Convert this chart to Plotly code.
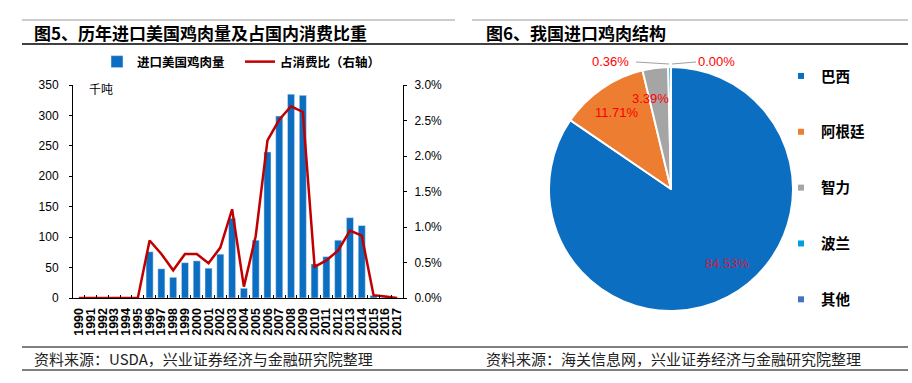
import plotly.graph_objects as go

# ---- data: left chart ----
years = [str(y) for y in range(1990, 2018)]
import_us = [0, 0, 0, 0, 0, 0, 76, 48, 34, 58, 61, 49, 72, 131, 16, 95,
             240, 299, 335, 333, 56, 68, 95, 132, 119, 4, 1, 0]
share_pct = [0.0, 0.0, 0.0, 0.0, 0.0, 0.0, 0.81, 0.62, 0.39, 0.62, 0.62, 0.49, 0.71, 1.25, 0.16, 0.87,
             2.22, 2.51, 2.70, 2.62, 0.44, 0.53, 0.67, 0.95, 0.88, 0.04, 0.02, 0.0]
left_ticks = [0, 50, 100, 150, 200, 250, 300, 350]
right_ticks = [0.0, 0.5, 1.0, 1.5, 2.0, 2.5, 3.0]

# ---- data: right chart ----
countries = ["巴西", "阿根廷", "智力", "波兰", "其他"]
pie_share = [84.53, 11.71, 3.39, 0.36, 0.00]
pie_colors = ["#0B6EC0", "#ED7D31", "#A5A5A5", "#00A0E0", "#4472C4"]
label_colors = ["#C8204A", "#FF0000", "#FF0000", "#FF0000", "#FF0000"]
# label placement (pixels) for each slice's percentage text
label_pos = [(727, 263), (617, 112), (650, 99), (610, 61), (716, 61)]

W, H = 912, 383
def px(x):
    return x / W
def py(y):
    return (H - y) / H

FONT = "Noto Sans CJK SC"
fig = go.Figure()

fig.add_trace(go.Bar(
    x=years, y=import_us, name="进口美国鸡肉量", marker_color="#0B6EC0",
    xaxis="x", yaxis="y", legend="legend"))
fig.add_trace(go.Scatter(
    x=years, y=[v / 100 for v in share_pct], name="占消费比（右轴）", mode="lines",
    line=dict(color="#C00000", width=2.5), xaxis="x", yaxis="y2", legend="legend"))

fig.add_trace(go.Pie(
    labels=countries, values=pie_share, sort=False, direction="clockwise", rotation=0,
    marker=dict(colors=pie_colors, line=dict(color="white", width=2)),
    textinfo="none",
    domain=dict(x=[px(549), px(793)], y=[py(311), py(67)]),
    showlegend=False, hoverinfo="label+percent"))

# proxy legend entries for the pie
for c, col in zip(countries, pie_colors):
    fig.add_trace(go.Scatter(
        x=[None], y=[None], mode="markers", name=c, legend="legend2", legendgroup=c,
        marker=dict(symbol="square", size=6, color=col), xaxis="x", yaxis="y"))

fig.update_layout(
    width=W, height=H, margin=dict(l=0, r=0, t=0, b=0, pad=0, autoexpand=False),
    paper_bgcolor="white", plot_bgcolor="white",
    font=dict(family=FONT, color="#000"),
    bargap=0.4,
    xaxis=dict(domain=[px(73), px(403)], type="category", tickangle=-90,
               tickmode="array", tickvals=years, ticktext=years, automargin=False,
               tickfont=dict(family="Liberation Sans", size=12.5, color="#000", weight="bold"),
               showline=True, linecolor="#000", linewidth=1,
               ticks="inside", tickson="boundaries", ticklen=3, tickcolor="#000",
               ticklabelstandoff=4, showgrid=False, anchor="y"),
    yaxis=dict(domain=[py(298), py(85)], range=[0, 350], tickvals=left_ticks, automargin=False,
               tickfont=dict(family="Liberation Sans", size=12, color="#000"),
               showline=True, linecolor="#000", linewidth=1, ticks="outside", ticklen=3,
               ticklabelstandoff=8,
               tickcolor="#000", showgrid=False, zeroline=False, anchor="x"),
    yaxis2=dict(domain=[py(298), py(85)], range=[0, 0.03], overlaying="y", side="right",
                tickvals=[v / 100 for v in right_ticks], tickformat=".1%", automargin=False,
                tickfont=dict(family="Liberation Sans", size=12, color="#000"),
                showline=True, linecolor="#000", linewidth=1, ticks="outside", ticklen=3,
                ticklabelstandoff=5,
                tickcolor="#000", showgrid=False, zeroline=False, anchor="x"),
    legend=dict(orientation="h", x=px(97), y=py(62), xanchor="left", yanchor="middle",
                font=dict(size=12.5, weight="bold", family=FONT), bgcolor="rgba(0,0,0,0)",
                entrywidth=98, entrywidthmode="pixels", itemwidth=30, tracegroupgap=0),
    legend2=dict(orientation="v", x=px(781), y=py(60), xanchor="left", yanchor="top",
                 font=dict(size=14.5, weight="bold", family=FONT), bgcolor="rgba(0,0,0,0)",
                 tracegroupgap=34, itemwidth=30),
)

shapes = []
shapes.append(dict(type="line", xref="paper", yref="paper", x0=px(22), x1=px(455), y0=py(20), y1=py(20),
                   line=dict(color="#999", width=1)))
shapes.append(dict(type="line", xref="paper", yref="paper", x0=px(472), x1=px(908), y0=py(20), y1=py(20),
                   line=dict(color="#999", width=1)))
shapes.append(dict(type="line", xref="paper", yref="paper", x0=px(22), x1=px(908), y0=py(44), y1=py(44),
                   line=dict(color="#000", width=1.5)))
for yy in (347, 370):
    shapes.append(dict(type="line", xref="paper", yref="paper", x0=px(22), x1=px(908), y0=py(yy), y1=py(yy),
                       line=dict(color="#000", width=1)))
# leader lines from the two tiny-slice labels to the top of the pie
shapes.append(dict(type="line", xref="paper", yref="paper", x0=px(636), x1=px(669), y0=py(62), y1=py(64),
                   line=dict(color="#A0A0A0", width=1)))
shapes.append(dict(type="line", xref="paper", yref="paper", x0=px(696), x1=px(672), y0=py(62), y1=py(64),
                   line=dict(color="#A0A0A0", width=1)))
fig.update_layout(shapes=shapes)

ann = [
    dict(text="图5、历年进口美国鸡肉量及占国内消费比重", x=px(32), y=py(33), xanchor="left", yanchor="middle",
         font=dict(size=17, weight="bold", family=FONT)),
    dict(text="图6、我国进口鸡肉结构", x=px(484), y=py(33), xanchor="left", yanchor="middle",
         font=dict(size=17, weight="bold", family=FONT)),
    dict(text="资料来源：USDA，兴业证券经济与金融研究院整理", x=px(32), y=py(358), xanchor="left", yanchor="middle",
         font=dict(size=15, family=FONT, color="#222")),
    dict(text="资料来源：海关信息网，兴业证券经济与金融研究院整理", x=px(484), y=py(358), xanchor="left", yanchor="middle",
         font=dict(size=15, family=FONT, color="#222")),
    dict(text="千吨", x=px(87), y=py(88), xanchor="left", yanchor="middle",
         font=dict(size=12, family=FONT)),
]
for v, (lx, ly), col in zip(pie_share, label_pos, label_colors):
    ann.append(dict(text=f"{v:.2f}%", x=px(lx), y=py(ly), xanchor="center", yanchor="middle",
                    font=dict(size=13, family="Liberation Sans", color=col)))
for a in ann:
    a.update(xref="paper", yref="paper", showarrow=False)
fig.update_layout(annotations=ann)

fig.write_html(
    "out.html",
    config={"displayModeBar": False},
    post_script=(
        "var s=document.documentElement.style;s.margin='0';s.padding='0';s.height='383px';s.overflow='hidden';"
        "var b=document.body.style;b.margin='0';b.padding='0';b.height='383px';b.overflow='hidden';"
    ),
)
